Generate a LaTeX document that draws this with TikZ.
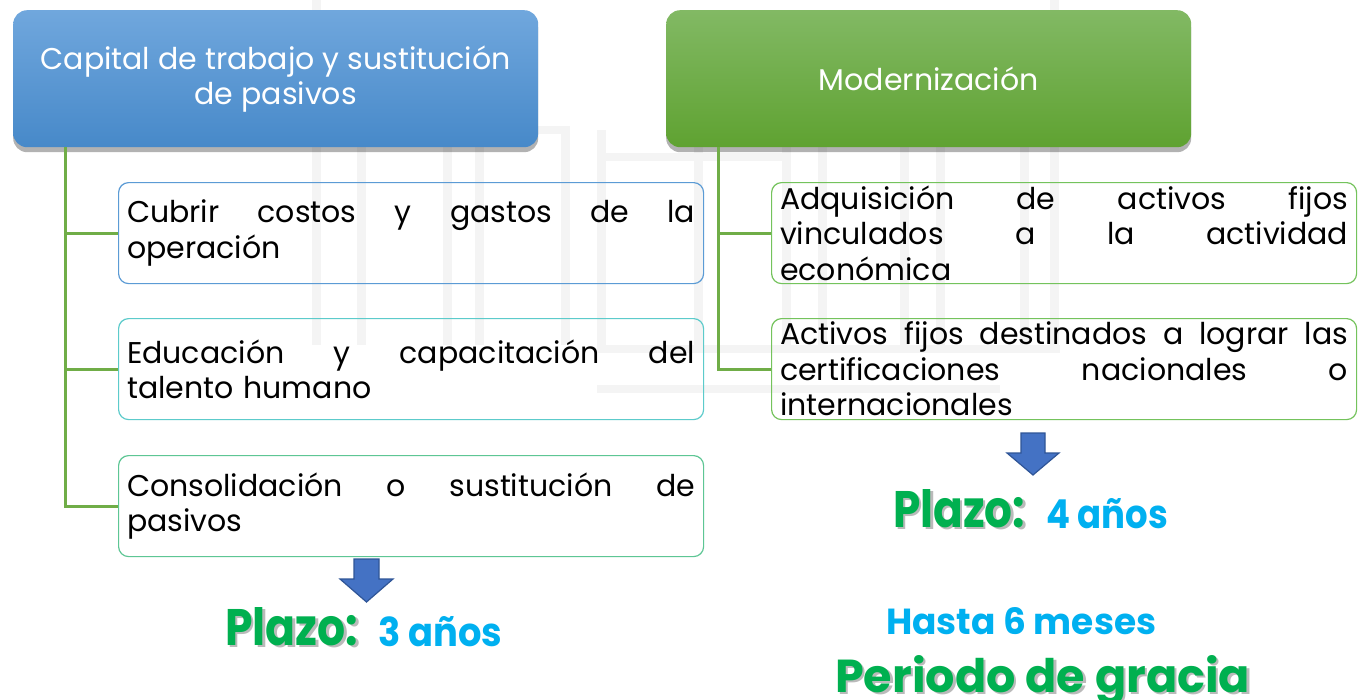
\documentclass[tikz,border=0pt]{standalone}
\usepackage{fontspec}
\setmainfont{Poppins}
\usepackage{graphicx}
\usetikzlibrary{shadows}
\definecolor{hbA}{HTML}{70A7DD}
\definecolor{hbB}{HTML}{4789C9}
\definecolor{hgA}{HTML}{82B964}
\definecolor{hgB}{HTML}{5FA231}
\definecolor{lnGreen}{HTML}{70AD47}
\definecolor{bdBlue}{HTML}{5B9BD5}
\definecolor{bdTeal}{HTML}{5CCBCB}
\definecolor{bdMint}{HTML}{5DC694}
\definecolor{bdGreen}{HTML}{74C35C}
\definecolor{arrBlue}{HTML}{4472C4}
\definecolor{arrDark}{HTML}{2F5597}
\definecolor{txGreen}{HTML}{00B050}
\definecolor{txBlue}{HTML}{00B0F0}
\definecolor{wm}{HTML}{F4F4F4}
\newcommand{\jl}[1]{\leavevmode\hbox to 568pt{#1}}
\newcommand{\gap}{\hfill}
\begin{document}
\begin{tikzpicture}[x=1pt,y=-1pt,
  hdr/.style={rounded corners=14pt, minimum width=525pt, minimum height=137pt,
    anchor=north west, text=white, align=center, inner sep=0pt,
    font=\fontsize{30}{35}\selectfont,
    drop shadow={shadow xshift=0pt,shadow yshift=-5pt,opacity=0.3,fill=black}},
  item/.style={draw, line width=1.2pt, rounded corners=10pt, minimum width=585pt,
    minimum height=101pt, anchor=north west, text width=568pt, inner xsep=8.5pt,
    inner ysep=0pt, align=left, font=\fontsize{30}{35.5}\selectfont},
  conn/.style={draw=lnGreen, line width=3pt},
  barrow/.style={fill=arrBlue, draw=arrDark, line width=1.2pt, line join=miter},
  big/.style={inner sep=0pt, anchor=base west}]
\useasboundingbox (0,0) rectangle (1363,699);
\fill[white] (0,0) rectangle (1363,699);
% faint watermark
\foreach \x in {312,443,561,694,782,900,1020}{\fill[wm] (\x,130) rectangle (\x+9,345);}
\foreach \x in {357,475,597,818,936,1050}{\fill[wm] (\x,130) rectangle (\x+9,345);}
\fill[wm] (312,0) rectangle (321,130);
\fill[wm] (1050,0) rectangle (1059,130);
\fill[wm] (312,126) rectangle (570,134);
\fill[wm] (597,153) rectangle (790,161);
\fill[wm] (597,345) rectangle (1060,353);
\fill[wm] (597,385) rectangle (1000,393);
% headers
\node[hdr, top color=hbA, bottom color=hbB] (cap) at (13,10)
  {Capital de trabajo y sustitución\\de pasivos};
\node[hdr, top color=hgA, bottom color=hgB] (mod) at (666,10) {Modernización};
% left items
\node[item, draw=bdBlue] (b1) at (118,182)
  {\jl{Cubrir\gap costos\gap y\gap gastos\gap de\gap la}\\operación};
\node[item, draw=bdTeal] (b2) at (118,318)
  {\jl{Educación\gap y\gap capacitación\gap del}\\talento humano};
\node[item, draw=bdMint] (b3) at (118,455)
  {\jl{Consolidación\gap o\gap sustitución\gap de}\\pasivos};
% right items
\node[item, draw=bdGreen] (r1) at (771,182)
  {\jl{Adquisición\gap de\gap activos\gap fijos}\\\jl{vinculados\gap a\gap la\gap actividad}\\económica};
\node[item, draw=bdGreen] (r2) at (771,318)
  {\jl{Activos\gap fijos\gap destinados\gap a\gap lograr\gap las}\\\jl{certificaciones\gap nacionales\gap o}\\internacionales};
% connectors
\coordinate (lt) at ([xshift=52pt]cap.south west);
\coordinate (rt) at ([xshift=52pt]mod.south west);
\draw[conn] (lt) |- (b1.west);
\draw[conn] (lt) |- (b2.west);
\draw[conn] (lt) |- (b3.west);
\draw[conn] (rt) |- (r1.west);
\draw[conn] (rt) |- (r2.west);
% block arrows
\draw[barrow] (354,559) -- (379,559) -- (379,579) -- (393,579) -- (366.5,602)
  -- (340,579) -- (354,579) -- cycle;
\draw[barrow] (1021,433) -- (1045,433) -- (1045,453) -- (1059,453) -- (1033,475)
  -- (1007,453) -- (1021,453) -- cycle;
% labels
\node[big, text=black!45, opacity=0.6] at (227.5,647.5) {\resizebox{133pt}{38pt}{\bfseries Plazo:}};
\node[big, text=txGreen] (p1) at (225,645) {\resizebox{133pt}{38pt}{\bfseries Plazo:}};
\node[big, text=txBlue] (y1) at (378,646) {\resizebox{124pt}{30pt}{\bfseries 3 años}};
\node[big, text=black!45, opacity=0.6] at (895.5,529.5) {\resizebox{132pt}{38pt}{\bfseries Plazo:}};
\node[big, text=txGreen] (p2) at (893,527) {\resizebox{132pt}{38pt}{\bfseries Plazo:}};
\node[big, text=txBlue] (y2) at (1046,528) {\resizebox{122pt}{30pt}{\bfseries 4 años}};
\node[big, text=txBlue] (h) at (886,634) {\resizebox{270pt}{27pt}{\bfseries Hasta 6 meses}};
\node[big, text=black!45, opacity=0.6] at (837.5,694.5) {\resizebox{415pt}{37pt}{\bfseries Periodo de gracia}};
\node[big, text=txGreen] (g) at (835,692) {\resizebox{415pt}{37pt}{\bfseries Periodo de gracia}};
\end{tikzpicture}
\end{document}
